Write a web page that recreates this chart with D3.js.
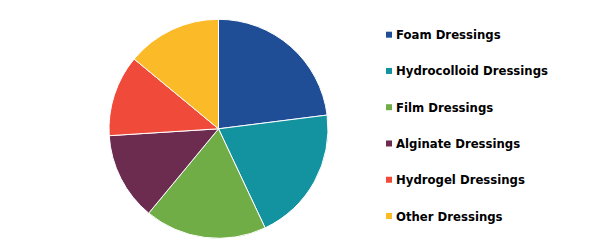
<!DOCTYPE html>
<html>
<head>
<meta charset="utf-8">
<script src="https://cdn.jsdelivr.net/npm/d3@7"></script>
<style>
  body { margin: 0; background: #fff; }
  .legend text { font-family: "DejaVu Sans", Verdana, sans-serif; font-weight: bold; font-size: 11.7px; fill: #000; }
</style>
</head>
<body>
<div id="chart"></div>
<script>
const categories = ['Foam Dressings', 'Hydrocolloid Dressings', 'Film Dressings', 'Alginate Dressings', 'Hydrogel Dressings', 'Other Dressings'];
const shares = [23, 20, 18, 13, 12, 14];
const colors = ['#1f4e96', '#13939f', '#70ad47', '#6b2c50', '#f04a3a', '#fbbb28'];

const width = 590;
const height = 249;
const radius = 109.5;

const dataset = categories.map((name, i) => ({ name: name, value: shares[i] }));

const color = d3.scaleOrdinal()
    .domain(categories)
    .range(colors);

const svg = d3.select('#chart')
    .append('svg')
    .attr('width', width)
    .attr('height', height);

const pieG = svg.append('g')
    .attr('transform', 'translate(218.5,128.8)');

const pie = d3.pie()
    .value(d => d.value)
    .sort(null);

const arc = d3.arc()
    .innerRadius(0)
    .outerRadius(radius);

pieG.selectAll('path')
    .data(pie(dataset))
    .enter()
    .append('path')
    .attr('d', arc)
    .attr('fill', d => color(d.data.name))
    .attr('stroke', '#fff')
    .attr('stroke-width', 1);

// legend on the right
const legendY = d3.scalePoint()
    .domain(categories)
    .range([34.7, 216]);

const legend = svg.selectAll('.legend')
    .data(categories)
    .enter()
    .append('g')
    .attr('class', 'legend')
    .attr('transform', d => 'translate(386,' + legendY(d) + ')');

legend.append('rect')
    .attr('x', 0)
    .attr('y', -3)
    .attr('width', 6)
    .attr('height', 6)
    .attr('fill', d => color(d));

legend.append('text')
    .attr('x', 10)
    .attr('y', 4.5)
    .text(d => d);
</script>
</body>
</html>
